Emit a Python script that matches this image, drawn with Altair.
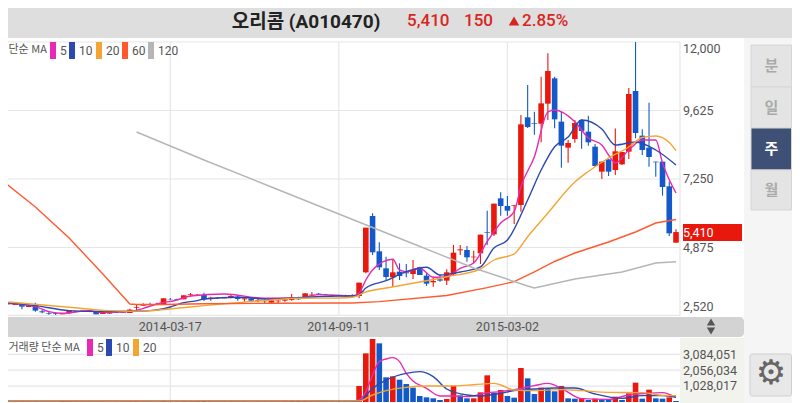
import altair as alt
import pandas as pd

# ---------- candles (weekly), index 0..100 ----------
opens = [2870,2939,2882,2939,2812,2882,2662,2604,2593,2558,2593,2639,2650,2708,2650,2570,2581,2604,2604,2604,
         2777,2858,2916,2916,2905,3090,3090,3078,3228,3217,3228,3090,3136,3113,3147,3170,3078,3113,3032,3032,
         2962,3009,3032,3055,3147,3124,3217,3274,3251,3217,3228,3217,3228,3193,4014,5967,4742,4152,3840,4037,
         4014,3956,4187,3898,3667,3771,3725,3945,4776,4788,4534,4673,5412,5331,6579,6314,6325,6348,9388,9191,
         9168,9862,10740,9238,8336,8637,9295,8891,8371,7504,7932,7562,7758,8197,10301,8752,8336,7851,7851,6996,5042]
highs = [2916,2962,2916,2939,2847,2962,2708,2639,2627,2593,2708,2662,2685,2708,2650,2616,2616,2627,2627,2754,
         2882,2939,2962,2962,3113,3124,3101,3217,3298,3263,3309,3170,3159,3136,3263,3228,3113,3147,3113,3078,
         3078,3078,3113,3263,3170,3286,3332,3298,3263,3240,3240,3240,3251,3655,5562,6059,5054,4557,4465,4326,
         4303,4441,4210,3979,3864,3921,4118,4961,4961,4927,4765,5320,6152,6395,6787,6660,6348,9469,10509,9584,
         10798,11607,10798,9584,8602,9295,9318,9446,8463,7851,7932,9000,8186,10405,12000,8972,9896,7851,7851,7157,5504]
lows = [2870,2905,2882,2731,2812,2650,2593,2546,2535,2558,2570,2639,2650,2639,2558,2570,2581,2604,2604,2604,
        2708,2858,2870,2870,2905,3055,3055,3078,3170,3205,3020,3032,3090,3113,3113,3032,2997,2974,2974,2939,
        2916,2939,2997,3032,3066,3124,3194,3228,3217,3170,3194,3194,3170,3112,3979,4615,4095,3748,3517,3748,
        3840,3783,3921,3540,3517,3690,3575,3921,4615,4384,4326,4303,4961,5274,5979,5979,5690,6117,9018,8787,
        8521,9295,9006,7643,7816,8509,8301,8405,7677,7250,7354,7388,7735,7943,8660,8082,7677,7331,6672,5273,5042]
closes = [2916,2905,2916,2824,2847,2685,2627,2581,2570,2593,2708,2662,2685,2639,2558,2616,2616,2627,2627,2720,
          2801,2893,2893,2905,3113,3078,3066,3217,3251,3240,3078,3136,3113,3136,3194,3090,3113,3032,3055,3009,
          3043,3032,3078,3159,3078,3286,3240,3228,3228,3194,3205,3205,3194,3655,5562,4707,4187,3852,4014,3887,
          3979,4095,3921,3621,3713,3725,4014,4696,4811,4534,4557,5320,5389,6395,6314,6152,6348,9145,9053,9168,
          9873,10994,9318,8405,8498,9191,8914,8521,7700,7851,7504,8209,8186,10197,8845,8255,8012,7828,6972,5366,5410]

# ---------- price moving averages: (week index, value) ----------
ma5_i = [1,5,7,9,13,15,19,21,23,26,28,33,39,44,47,52,53,54,55,58,59,60,62,64,66,68,70,72,74,76,77,79,81,82,85,87,89,90,91,93,95,97,98,100]
ma5_v = [2939,2824,2650,2593,2685,2627,2650,2766,2916,3055,3194,3263,3113,3124,3240,3200,3297,3748,4095,4466,4095,4036,4153,3841,3862,4153,4337,5076,5724,6116,6983,8023,9573,9642,9236,8671,8429,8082,7804,8255,8602,8602,7804,6764]
ma10_i = [1,5,10,15,19,22,25,27,29,30,35,40,43,50,52,53,54,57,60,63,65,68,71,73,75,78,80,82,84,86,89,91,94,97,100]
ma10_v = [2962,2858,2685,2650,2662,2685,2812,2962,3032,3090,3147,3078,3124,3194,3193,3228,3470,3723,4036,4188,3921,4025,4199,4857,5135,6522,7562,8370,8706,9295,8983,8429,8533,8255,7735]
ma20_i = [1,10,16,19,22,26,30,34,40,44,50,52,54,57,62,66,71,73,76,78,81,85,87,90,93,95,97,99,100]
ma20_v = [2986,2801,2685,2662,2685,2766,2858,2939,3055,3113,3124,3147,3332,3470,3678,3862,4129,4441,4650,5249,6071,7146,7510,7978,8359,8689,8741,8515,8231]
ma60_i = [0,5,10,15,19,20,24,30,40,50,52,56,66,72,76,79,82,85,90,94,97,100]
ma60_v = [7215,6279,5204,3956,2916,2899,2899,2923,2940,2950,2950,2996,3210,3481,3689,4025,4389,4684,5065,5412,5724,5846]
ma120_i = [20,30,40,50,60,70,78,79,85,92,97,100]
ma120_v = [8879,7909,6972,6036,5100,4164,3540,3470,3782,4025,4337,4382]

# ---------- volume ----------
vol_early = [40000,40000,40000,50000,40000,40000,30000,40000,30000,70000,50000,40000,40000,40000,30000,40000,30000,30000,40000,50000,
             50000,40000,40000,30000,60000,30000,30000,50000,50000,60000,100000,50000,40000,40000,50000,40000,40000,30000,40000,30000,
             40000,40000,50000,90000,60000,70000,40000,50000,40000,40000,40000,40000,60000]
vol_late = [1034000,3146000,4073000,3793000,1595000,1659000,1444000,1164000,927000,388000,302000,237000,129000,194000,1056000,431000,237000,237000,625000,1724000,
            603000,776000,388000,280000,2198000,1530000,517000,927000,840000,690000,1034000,237000,215000,215000,129000,215000,172000,151000,345000,129000,
            560000,1250000,215000,797000,237000,215000,302000,65000]
vol_up_late = [1,1,1,0,0,1,0,0,0,0,0,0,0,1,1,0,0,1,1,1,0,1,0,0,1,0,0,1,0,0,1,0,0,1,0,1,0,0,1,0,1,1,0,1,0,0,1,0]

vma5_i = [0,52,53,54,55,56,57,58,59,60,61,63,65,67,69,72,74,77,79,81,83,86,90,93,96,98,100]
vma5_v = [70000,70000,129000,668000,1745000,2608000,2780000,2866000,2608000,1853000,1358000,883000,388000,388000,345000,603000,668000,883000,1056000,1207000,883000,215000,172000,452000,560000,603000,302000]
vma10_i = [0,52,53,55,57,60,62,64,66,69,71,74,76,79,82,85,88,92,95,98,100]
vma10_v = [70000,70000,65000,883000,1422000,1853000,1961000,1638000,840000,452000,388000,560000,733000,840000,905000,905000,517000,237000,409000,409000,302000]
vma20_i = [0,52,53,55,57,60,63,66,70,73,74,76,79,83,86,90,95,98,100]
vma20_v = [70000,70000,70000,452000,733000,948000,1034000,1034000,1120000,1207000,1099000,776000,733000,797000,733000,625000,603000,431000,409000]

price_ticks = [12000, 9625, 7250, 4875, 2520]
vol_ticks = [3084051, 2056034, 1028017]
date_idx = [25, 50, 75]
date_txt = ["2014-03-17", "2014-09-11", "2015-03-02"]

RED, BLUE = "#e8180c", "#1359c9"
C5, C10, C20, C60, C120 = "#e829b6", "#2b49b0", "#f4a433", "#ff5a2e", "#b5b5b5"
FONT = "Roboto"
KR = "Noto Sans CJK KR"
OFF = 8  # page margin

W, H = 784, 395
dummy = pd.DataFrame({"a": [0]})
xs = alt.Scale(domain=[0, 100], range=[1.7 - OFF, 676 - OFF], nice=False, zero=False, padding=0)
ys = alt.Scale(domain=[2520, 12000], range=[315.4 - OFF, 42 - OFF], nice=False, zero=False)
vs = alt.Scale(domain=[0, 3084051], range=[402 - OFF, 354.3 - OFF], nice=False, zero=False)
X = alt.X("i:Q", scale=xs, axis=None)


def box(x0, x1, y0, y1, color, stroke=None, r=0):
    kw = {"color": color}
    if stroke:
        kw.update(stroke=stroke, strokeWidth=1)
    if r:
        kw.update(cornerRadius=r)
    return alt.Chart(dummy).mark_rect(**kw).encode(
        x=alt.value(x0 - OFF), x2=alt.value(x1 - OFF),
        y=alt.value(y0 - OFF), y2=alt.value(y1 - OFF))


def label(s, x, y, size=12, color="#555555", align="left", font=FONT, weight="normal"):
    return alt.Chart(dummy).mark_text(
        align=align, baseline="middle", fontSize=size, color=color, font=font, fontWeight=weight
    ).encode(x=alt.value(x - OFF), y=alt.value(y - OFF), text=alt.value(s))


def ma_line(idx, vals, color, scale, w=1.4, interp="monotone"):
    d = pd.DataFrame({"i": idx, "v": vals})
    return alt.Chart(d).mark_line(color=color, strokeWidth=w, interpolate=interp).encode(
        x=X, y=alt.Y("v:Q", scale=scale, axis=None))


layers = []
# page chrome
layers += [
    box(744, 800, 38, 403, "#f5f5f5"),
    box(0, 800, 0, 38, "#dedede"),
    box(680, 744, 338, 403, "#f3f3ee"),
    box(0, 744, 317, 337, "#d3d3d3", r=4),
]

# grid
price_df = pd.DataFrame({"p": price_ticks})
layers.append(alt.Chart(price_df).mark_rule(color="#e6e6e6", strokeWidth=1.2).encode(
    y=alt.Y("p:Q", scale=ys, axis=None), x=alt.value(0), x2=alt.value(680 - OFF)))
vol_df = pd.DataFrame({"v": vol_ticks})
layers.append(alt.Chart(vol_df).mark_rule(color="#e6e6e6", strokeWidth=1.2).encode(
    y=alt.Y("v:Q", scale=vs, axis=None), x=alt.value(0), x2=alt.value(680 - OFF)))
date_df = pd.DataFrame({"i": date_idx, "t": date_txt})
layers.append(alt.Chart(date_df).mark_rule(color="#e6e6e6", strokeWidth=1.2).encode(
    x=X, y=alt.value(42 - OFF), y2=alt.value(316 - OFF)))
layers.append(alt.Chart(date_df).mark_rule(color="#e6e6e6", strokeWidth=1.2).encode(
    x=X, y=alt.value(338 - OFF), y2=alt.value(403 - OFF)))
layers.append(alt.Chart(dummy).mark_rule(color="#e6e6e6", strokeWidth=1.2).encode(
    x=alt.value(680 - OFF), y=alt.value(42 - OFF), y2=alt.value(316 - OFF)))

# candles
cd = pd.DataFrame({"i": range(101), "o": opens, "h": highs, "l": lows, "c": closes})
cd["dir"] = ["up" if c >= o else "down" for o, c in zip(opens, closes)]
col = alt.Color("dir:N", scale=alt.Scale(domain=["up", "down"], range=[RED, BLUE]), legend=None)
layers.append(alt.Chart(cd).mark_rule(strokeWidth=1.1).encode(
    x=X, y=alt.Y("h:Q", scale=ys, axis=None), y2="l:Q", color=col))
layers.append(alt.Chart(cd).mark_bar(size=5.6, orient="vertical").encode(
    x=X, y=alt.Y("o:Q", scale=ys, axis=None), y2="c:Q", color=col))

# price MAs
layers += [
    ma_line(ma5_i, ma5_v, C5, ys),
    ma_line(ma10_i, ma10_v, C10, ys),
    ma_line(ma20_i, ma20_v, C20, ys),
    ma_line(ma60_i, ma60_v, C60, ys, interp="linear"),
    ma_line(ma120_i, ma120_v, C120, ys, interp="linear"),
]

# volume
vol = vol_early + vol_late
vd = pd.DataFrame({"i": range(101), "v": vol, "z": [0] * 101})
up_early = [int(c >= o) for o, c in zip(opens[:53], closes[:53])]
vd["dir"] = ["up" if u else "down" for u in up_early + vol_up_late]
layers.append(alt.Chart(vd).mark_bar(size=5.6, orient="vertical").encode(
    x=X, y=alt.Y("v:Q", scale=vs, axis=None), y2="z:Q", color=col))
layers += [
    ma_line(vma5_i, vma5_v, C5, vs),
    ma_line(vma10_i, vma10_v, C10, vs),
    ma_line(vma20_i, vma20_v, C20, vs),
]

# header
layers += [
    label("오리콤 (A010470)", 306, 21.5, size=19, color="#222222", align="center", font=f"{FONT}, {KR}", weight="bold"),
    label("5,410", 407, 21, size=17, color="#d8251c", weight=500),
    label("150", 464, 21, size=17, color="#d8251c", weight=500),
    alt.Chart(dummy).mark_point(shape="triangle-up", filled=True, size=110, color="#d8251c", opacity=1).encode(
        x=alt.value(514 - OFF), y=alt.value(21 - OFF)),
    label("2.85%", 522, 21, size=17, color="#d8251c", weight=500),
]

# legends
layers.append(label("단순 MA", 8.5, 50, size=11, font=KR))
for x0, c, t in [(50, C5, "5"), (69, C10, "10"), (96, C20, "20"), (122, C60, "60"), (148, C120, "120")]:
    layers += [box(x0, x0 + 6, 42, 59, c), label(t, x0 + 10, 50.5, size=12)]
layers.append(label("거래량 단순 MA", 8.5, 348, size=11, font=KR))
for x0, c, t in [(87, C5, "5"), (106, C10, "10"), (133, C20, "20")]:
    layers += [box(x0, x0 + 6, 339, 356, c), label(t, x0 + 10, 348, size=12)]

# price labels
for s, y in [("12,000", 49), ("9,625", 111), ("7,250", 179), ("4,875", 248), ("2,520", 307)]:
    layers.append(label(s, 683, y, size=12.5))
layers += [box(683, 742, 224, 241, RED), label("5,410", 683, 232.5, size=12.5, color="#ffffff")]
for s, y in [("3,084,051", 355), ("2,056,034", 371), ("1,028,017", 386)]:
    layers.append(label(s, 683, y, size=12.5))

# date labels
layers.append(alt.Chart(date_df).mark_text(baseline="middle", fontSize=12.5, color="#555555", font=FONT).encode(
    x=X, y=alt.value(327 - OFF), text="t:N"))

# scroller arrows
layers += [
    alt.Chart(dummy).mark_point(shape="triangle-up", filled=True, size=70, color="#555555", opacity=1).encode(
        x=alt.value(711 - OFF), y=alt.value(322 - OFF)),
    alt.Chart(dummy).mark_point(shape="triangle-down", filled=True, size=70, color="#555555", opacity=1).encode(
        x=alt.value(711 - OFF), y=alt.value(331 - OFF)),
]

# period buttons
for t, y0, y1, bg, fg in [("분", 45, 87, "#e4e4e4", "#aaaaaa"), ("일", 87, 128, "#e4e4e4", "#aaaaaa"),
                          ("주", 128, 170, "#3f5077", "#ffffff"), ("월", 170, 210, "#e4e4e4", "#aaaaaa")]:
    layers += [box(751, 791.5, y0, y1, bg, stroke="#d6d6d6"),
               label(t, 771.5, (y0 + y1) / 2, size=15, color=fg, align="center", font=KR, weight="bold")]

# settings button
layers += [box(750, 791.5, 354, 396, "#e8e8e8", stroke="#cfcfcf", r=2),
           label("⚙", 771, 374, size=34, color="#666666", align="center", font="DejaVu Sans")]

chart = alt.layer(*layers).resolve_scale(y="independent").properties(
    width=W, height=H, padding=0, autosize=alt.AutoSizeParams(type="none"), background="#ffffff"
).configure_view(stroke=None)

chart.save("out.html", embed_options={"renderer": "svg", "actions": False})
